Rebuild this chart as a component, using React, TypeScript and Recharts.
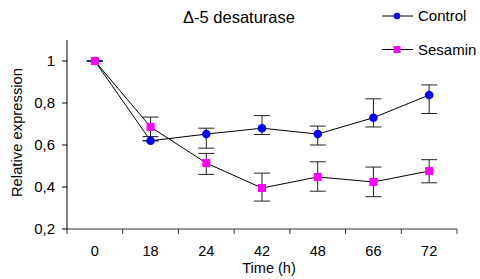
import React from 'react';
import { LineChart, Line, XAxis, YAxis, ErrorBar } from 'recharts';

const timeLabels = ['0', '18', '24', '42', '48', '66', '72'];
const controlValues = [1.0, 0.62, 0.652, 0.68, 0.652, 0.73, 0.838];
const controlErrLow = [0, 0, 0.067, 0.03, 0.052, 0.044, 0.088];
const controlErrHigh = [0, 0, 0.028, 0.06, 0.038, 0.09, 0.048];
const sesaminValues = [1.0, 0.686, 0.514, 0.395, 0.448, 0.424, 0.476];
const sesaminErrLow = [0, 0.046, 0.054, 0.062, 0.068, 0.07, 0.056];
const sesaminErrHigh = [0, 0.047, 0.046, 0.071, 0.072, 0.071, 0.054];
const yTicks = [0.2, 0.4, 0.6, 0.8, 1];

const data = timeLabels.map((t, i) => ({
  pos: i + 0.5,
  time: t,
  control: controlValues[i],
  controlErr: [controlErrLow[i], controlErrHigh[i]],
  sesamin: sesaminValues[i],
  sesaminErr: [sesaminErrLow[i], sesaminErrHigh[i]],
}));

const boundaryTicks = timeLabels.map((_, i) => i).concat([timeLabels.length]);
const centerTicks = timeLabels.map((_, i) => i + 0.5);

const FONT = '"Liberation Sans", Arial, sans-serif';

const CircleDot = (props: any) => {
  const { cx, cy } = props;
  if (cx == null || cy == null) return null;
  return <circle cx={cx} cy={cy} r={4.3} fill="#0000FF" stroke="none" />;
};

const SquareDot = (props: any) => {
  const { cx, cy } = props;
  if (cx == null || cy == null) return null;
  return <rect x={cx - 4} y={cy - 4} width={8} height={8} fill="#FF00FF" stroke="none" />;
};

export default function App() {
  return (
    <div style={{ position: 'absolute', left: 0, top: 0, width: 480, height: 279, fontFamily: FONT, background: '#fff' }}>
      <LineChart width={480} height={279} data={data} margin={{ top: 40, right: 23, left: 0, bottom: 0 }}>
        <XAxis
          xAxisId="a"
          dataKey="pos"
          type="number"
          domain={[0, timeLabels.length]}
          allowDataOverflow
          ticks={boundaryTicks}
          tickFormatter={() => ''}
          height={8}
          tickSize={5}
          axisLine={{ stroke: '#333', strokeWidth: 1 }}
          tickLine={{ stroke: '#333' }}
        />
        <XAxis
          xAxisId="b"
          dataKey="pos"
          type="number"
          domain={[0, timeLabels.length]}
          allowDataOverflow
          ticks={centerTicks}
          tickFormatter={(v: number) => timeLabels[Math.floor(v)]}
          height={42}
          axisLine={false}
          tickLine={false}
          tickSize={0}
          tickMargin={9}
          interval={0}
          tick={{ fill: '#000', fontSize: 14.5, fontFamily: FONT }}
          label={{ value: 'Time (h)', position: 'insideBottom', offset: 6, dx: 7, fill: '#000', fontSize: 14.5, fontFamily: FONT }}
        />
        <YAxis
          type="number"
          domain={[0.2, 1.1]}
          allowDataOverflow
          ticks={yTicks}
          width={67}
          tickSize={5}
          tickMargin={7}
          interval={0}
          axisLine={{ stroke: '#000' }}
          tickLine={{ stroke: '#000' }}
          tick={{ fill: '#000', fontSize: 15, fontFamily: FONT }}
          tickFormatter={(v: number) => (v === 1 ? '1' : v.toFixed(1).replace('.', ','))}
        />
        <Line
          xAxisId="a"
          dataKey="control"
          stroke="#000"
          strokeWidth={1}
          dot={<CircleDot />}
          activeDot={false}
          isAnimationActive={false}
        >
          <ErrorBar dataKey="controlErr" width={8} stroke="#222" strokeWidth={1} direction="y" />
        </Line>
        <Line
          xAxisId="a"
          dataKey="sesamin"
          stroke="#000"
          strokeWidth={1}
          dot={<SquareDot />}
          activeDot={false}
          isAnimationActive={false}
        >
          <ErrorBar dataKey="sesaminErr" width={8} stroke="#222" strokeWidth={1} direction="y" />
        </Line>
      </LineChart>
      <svg width={480} height={279} style={{ position: 'absolute', left: 0, top: 0, pointerEvents: 'none' }}>
        <text x={239} y={23} textAnchor="middle" fontSize={16.5} fill="#000" fontFamily={FONT}>Δ-5 desaturase</text>
        <text x={21.5} y={132.5} textAnchor="middle" fontSize={14.8} fill="#000" fontFamily={FONT} transform="rotate(-90, 21.5, 132.5)">Relative expression</text>
        <line x1={382} y1={16} x2={413} y2={16} stroke="#000" strokeWidth={1} />
        <circle cx={397} cy={16} r={3.3} fill="#0000FF" />
        <text x={418} y={21} fontSize={15} fill="#000" fontFamily={FONT}>Control</text>
        <line x1={382} y1={49.5} x2={413} y2={49.5} stroke="#000" strokeWidth={1} />
        <rect x={393.5} y={46} width={7} height={7} fill="#FF00FF" />
        <text x={418} y={54.5} fontSize={15} fill="#000" fontFamily={FONT}>Sesamin</text>
      </svg>
    </div>
  );
}
